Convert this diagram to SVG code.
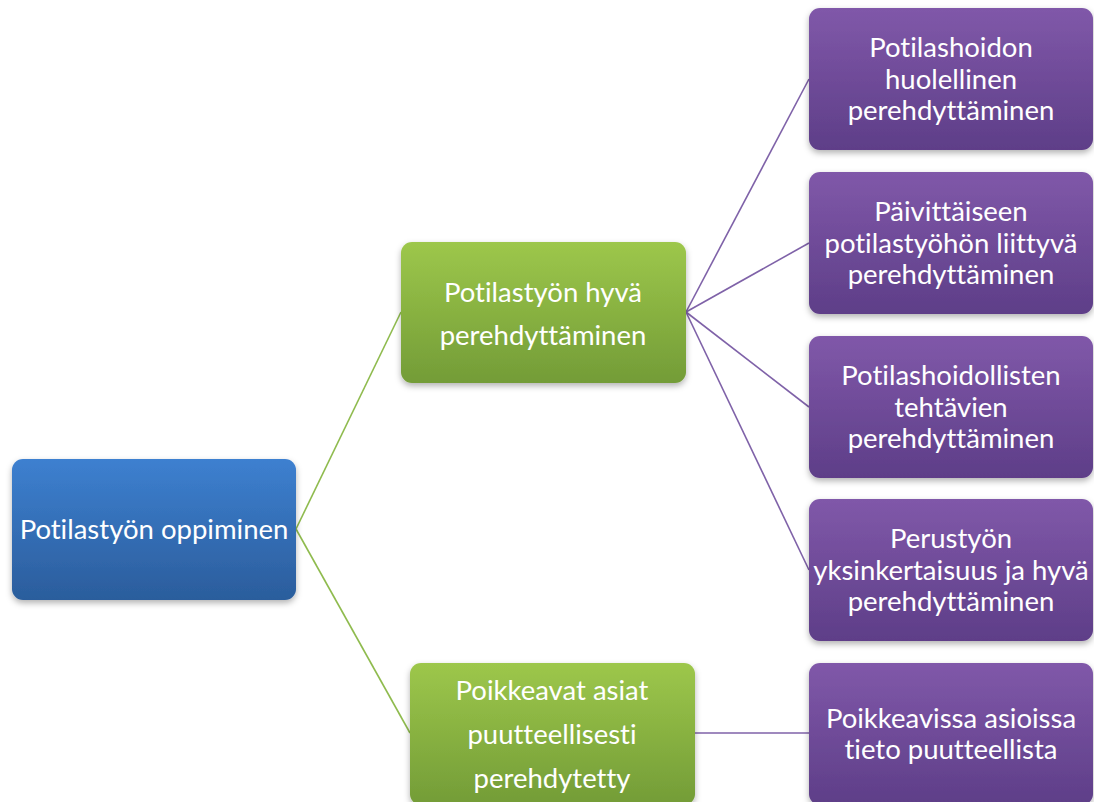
<svg xmlns="http://www.w3.org/2000/svg" width="1094" height="802" viewBox="0 0 1094 802">
<defs>
<linearGradient id="gBlue" x1="0" y1="0" x2="0" y2="1"><stop offset="0" stop-color="#3d80d0"/><stop offset="1" stop-color="#2b5d9c"/></linearGradient>
<linearGradient id="gGreen" x1="0" y1="0" x2="0" y2="1"><stop offset="0" stop-color="#9dc74b"/><stop offset="1" stop-color="#739c37"/></linearGradient>
<linearGradient id="gPurple" x1="0" y1="0" x2="0" y2="1"><stop offset="0" stop-color="#8058a9"/><stop offset="1" stop-color="#5e3e88"/></linearGradient>
<filter id="sh" x="-10%" y="-10%" width="120%" height="125%"><feDropShadow dx="0" dy="3" stdDeviation="3" flood-color="#000" flood-opacity="0.3"/></filter>
<style>
text{font-family:Lato,"Open Sans","Liberation Sans",sans-serif;font-size:27.5px;fill:#fff;text-anchor:middle;font-variant-ligatures:none}
.c{fill:none;stroke-width:1.6}
.cg{stroke:#8fbb4e}
.cp{stroke:#7f62a8}
</style>
</defs>
<rect width="1094" height="802" fill="#fff"/>
<g id="connectors">
<line class="c cg" x1="296" y1="529" x2="401" y2="312"/>
<line class="c cg" x1="296" y1="529" x2="410" y2="733"/>
<line class="c cp" x1="686" y1="312" x2="809" y2="79"/>
<line class="c cp" x1="686" y1="312" x2="809" y2="243"/>
<line class="c cp" x1="686" y1="312" x2="809" y2="407"/>
<line class="c cp" x1="686" y1="312" x2="809" y2="570"/>
<line class="c cp" x1="695" y1="733" x2="809" y2="733"/>
</g>
<g id="root">
<rect x="12" y="459" width="284" height="141" rx="11" fill="url(#gBlue)" filter="url(#sh)"/>
<text x="154" y="539">Potilastyön oppiminen</text>
</g>
<g id="green1">
<rect x="401" y="242" width="285" height="141" rx="11" fill="url(#gGreen)" filter="url(#sh)"/>
<text x="543" y="302">Potilastyön hyvä</text>
<text x="543" y="345">perehdyttäminen</text>
</g>
<g id="green2">
<rect x="410" y="663" width="285" height="142" rx="11" fill="url(#gGreen)" filter="url(#sh)"/>
<text x="552" y="700">Poikkeavat asiat</text>
<text x="552" y="744">puutteellisesti</text>
<text x="552" y="788">perehdytetty</text>
</g>
<g id="purple1">
<rect x="809" y="8" width="284" height="142" rx="11" fill="url(#gPurple)" filter="url(#sh)"/>
<text x="951" y="57">Potilashoidon</text>
<text x="951" y="89">huolellinen</text>
<text x="951" y="120">perehdyttäminen</text>
</g>
<g id="purple2">
<rect x="809" y="172" width="284" height="142" rx="11" fill="url(#gPurple)" filter="url(#sh)"/>
<text x="951" y="221">Päivittäiseen</text>
<text x="951" y="253">potilastyöhön liittyvä</text>
<text x="951" y="284">perehdyttäminen</text>
</g>
<g id="purple3">
<rect x="809" y="336" width="284" height="142" rx="11" fill="url(#gPurple)" filter="url(#sh)"/>
<text x="951" y="385">Potilashoidollisten</text>
<text x="951" y="417">tehtävien</text>
<text x="951" y="448">perehdyttäminen</text>
</g>
<g id="purple4">
<rect x="809" y="499" width="284" height="142" rx="11" fill="url(#gPurple)" filter="url(#sh)"/>
<text x="951" y="548">Perustyön</text>
<text x="951" y="580">yksinkertaisuus ja hyvä</text>
<text x="951" y="611">perehdyttäminen</text>
</g>
<g id="purple5">
<rect x="809" y="663" width="284" height="142" rx="11" fill="url(#gPurple)" filter="url(#sh)"/>
<text x="951" y="728">Poikkeavissa asioissa</text>
<text x="951" y="759">tieto puutteellista</text>
</g>
</svg>
